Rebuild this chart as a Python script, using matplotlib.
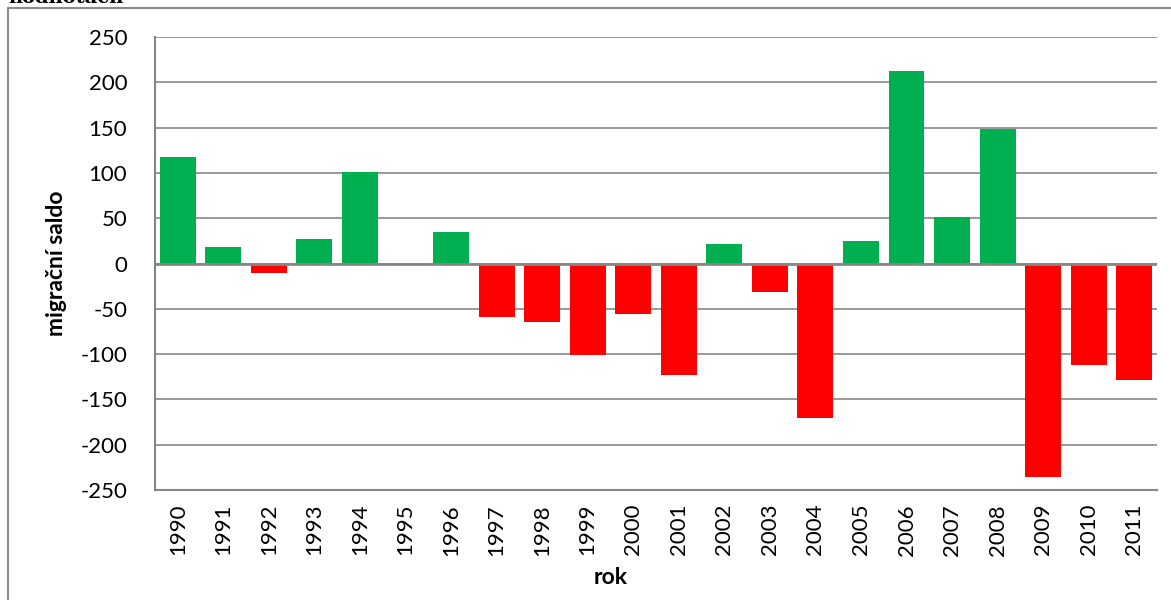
import matplotlib
matplotlib.use('Agg')
import matplotlib.pyplot as plt
from matplotlib.patches import Rectangle

# %% data
years = [str(y) for y in range(1990, 2012)]
saldo = [118, 18, -11, 27, 101, 0, 35, -59, -65, -101, -56, -123, 22, -31, -170,
         25, 212, 51, 148, -236, -112, -129]
yticks = [-250, -200, -150, -100, -50, 0, 50, 100, 150, 200, 250]

GREEN = '#00B050'
RED = '#FF0000'
GRID = '#868686'

plt.rcParams['font.family'] = ['Lato', 'DejaVu Sans']

# %% figure
W, H = 1171, 600
fig = plt.figure(figsize=(W / 100, H / 100), dpi=100)
ax = fig.add_axes([155 / W, 1 - 490 / H, (1157 - 155) / W, (490 - 37) / H])

colors = [GREEN if v >= 0 else RED for v in saldo]
x = list(range(len(years)))
ax.bar(x, saldo, width=0.79, color=colors, zorder=3)

ax.set_xlim(-0.5, len(years) - 0.5)
ax.set_ylim(-250, 250)
ax.set_yticks(yticks)
ax.set_yticklabels([str(t) for t in yticks], fontsize=16)
ax.set_xticks(x)
ax.set_xticklabels(years, rotation=90, fontsize=16)
ax.tick_params(axis='both', length=0)
ax.tick_params(axis='y', pad=20)
ax.tick_params(axis='x', pad=10)

ax.grid(axis='y', color=GRID, lw=1.2, zorder=0)
ax.axhline(0, color=GRID, lw=2, zorder=4)
for s in ['top', 'right']:
    ax.spines[s].set_visible(False)
for s in ['left', 'bottom']:
    ax.spines[s].set_color(GRID)
    ax.spines[s].set_linewidth(1.5)

ax.set_ylabel('migrační saldo', fontsize=16.5, fontweight='bold')
ax.yaxis.set_label_coords((57 - 155) / (1157 - 155), 0.5)
ax.set_xlabel('rok', fontsize=16.5, fontweight='bold')
ax.xaxis.set_label_coords(0.455, -(578 - 490) / (490 - 37))
ax.xaxis.label.set_va('center')
ax.yaxis.label.set_va('center')

# outer chart border (cut off at right / bottom)
fig.patches.append(Rectangle((8 / W, -0.1), 1.2, 1.1 - 8 / H,
                             transform=fig.transFigure, fill=False,
                             edgecolor='#8c8c8c', lw=1.5))

# clipped caption fragment at the very top
fig.text(8 / W, 1 - 3 / H, 'hodnotách', family='DejaVu Serif', fontsize=14,
         fontweight='bold', va='baseline', ha='left')

fig.savefig('out.png', dpi=100)
